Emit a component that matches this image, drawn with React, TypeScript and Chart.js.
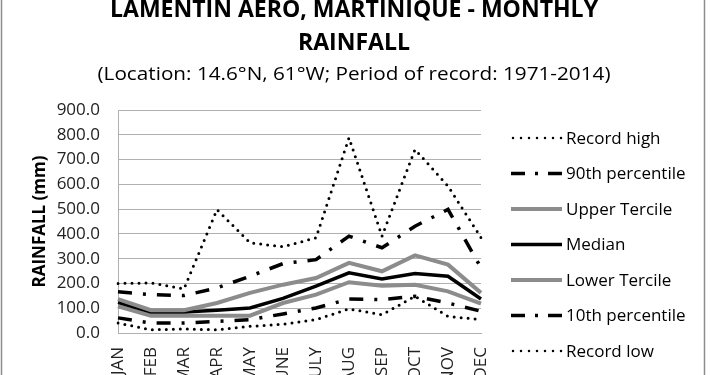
import React, { useEffect, useRef } from "react";
import { Chart, registerables } from "chart.js";

Chart.register(...registerables);

const months = ["JAN", "FEB", "MAR", "APR", "MAY", "JUNE", "JULY", "AUG", "SEP", "OCT", "NOV", "DEC"];
const recordHigh = [200, 202, 178, 498, 364, 348, 384, 788, 391, 741, 593, 385];
const p90 = [166, 155, 151, 182, 229, 280, 296, 391, 344, 431, 499, 263];
const upperTercile = [137, 92, 92, 121, 162, 195, 222, 283, 249, 313, 276, 162];
const median = [124, 85, 85, 92, 101, 140, 189, 243, 218, 240, 229, 137];
const lowerTercile = [108, 70, 70, 70, 70, 121, 155, 205, 191, 195, 168, 119];
const p10 = [61, 40, 40, 47, 54, 77, 101, 137, 135, 148, 121, 88];
const recordLow = [40, 13, 16, 13, 27, 35, 54, 97, 74, 148, 67, 54];

const titleLines = ["LAMENTIN AERO, MARTINIQUE - MONTHLY", "RAINFALL"];
const subtitle = "(Location: 14.6°N, 61°W; Period of record: 1971-2014)";
const yTitle = "RAINFALL (mm)";

const FONT = "'Open Sans', 'Noto Sans', sans-serif";

function fitText(ctx: CanvasRenderingContext2D, text: string, font: string, cx: number, y: number, targetW: number) {
  ctx.save();
  ctx.font = font;
  const w = ctx.measureText(text).width;
  const k = targetW / w;
  ctx.translate(cx, y);
  ctx.scale(k, 1);
  ctx.textAlign = "center";
  ctx.fillText(text, 0, 0);
  ctx.restore();
}

const decorPlugin = {
  id: "decor",
  afterDraw(chart: any) {
    const ctx = chart.ctx as CanvasRenderingContext2D;
    ctx.save();
    // outer frame
    ctx.strokeStyle = "#8c8c8c";
    ctx.lineWidth = 1.5;
    ctx.strokeRect(1.5, -10, 703, 400);

    // titles
    ctx.fillStyle = "#000";
    ctx.textBaseline = "alphabetic";
    fitText(ctx, titleLines[0], `bold 24px ${FONT}`, 354, 17, 488);
    ctx.font = `bold 24px ${FONT}`;
    const full = ctx.measureText(titleLines[0]).width;
    const k = 488 / full;
    fitText(ctx, titleLines[1], `bold 24px ${FONT}`, 354, 50, ctx.measureText(titleLines[1]).width * k);
    fitText(ctx, subtitle, `19px ${FONT}`, 354, 80, 513);

    // legend
    const ds = chart.data.datasets;
    ctx.textAlign = "left";
    ctx.textBaseline = "middle";
    ctx.font = `17px ${FONT}`;
    for (let i = 0; i < ds.length; i++) {
      const d = ds[i];
      const y = 138 + i * 35.5;
      ctx.save();
      ctx.strokeStyle = d.borderColor;
      ctx.lineWidth = d.legendWidth || d.borderWidth;
      ctx.lineCap = d.borderCapStyle || "butt";
      ctx.setLineDash(d.legendDash || d.borderDash || []);
      ctx.beginPath();
      ctx.moveTo(d.legendStart || 511, y);
      ctx.lineTo(562, y);
      ctx.stroke();
      ctx.restore();
      ctx.fillStyle = "#000";
      ctx.fillText(d.label, 566, y + 1);
    }
    ctx.restore();
  },
};

export default function App() {
  const ref = useRef<HTMLCanvasElement | null>(null);
  useEffect(() => {
    if (!ref.current) return;
    const dotted = { borderColor: "#000", borderWidth: 3, borderDash: [0, 7], borderCapStyle: "round", legendDash: [0, 8], legendWidth: 2.5, legendStart: 513 };
    const dashDot = { borderColor: "#000", borderWidth: 3.5, borderDash: [14, 11, 3, 11], borderCapStyle: "butt", legendDash: [14, 10, 3, 10] };
    const common = { pointRadius: 0, tension: 0, fill: false };
    const chart = new Chart(ref.current, {
      type: "line",
      data: {
        labels: months,
        datasets: [
          { label: "Record high", data: recordHigh, ...common, ...dotted },
          { label: "90th percentile", data: p90, ...common, ...dashDot },
          { label: "Upper Tercile", data: upperTercile, ...common, borderColor: "#8c8c8c", borderWidth: 4 },
          { label: "Median", data: median, ...common, borderColor: "#000", borderWidth: 3.5 },
          { label: "Lower Tercile", data: lowerTercile, ...common, borderColor: "#8c8c8c", borderWidth: 4 },
          { label: "10th percentile", data: p10, ...common, ...dashDot },
          { label: "Record low", data: recordLow, ...common, ...dotted },
        ] as any,
      },
      options: {
        animation: false,
        responsive: false,
        layout: { padding: { top: 110, right: 229, bottom: 0, left: 0 } },
        plugins: { legend: { display: false }, title: { display: false }, tooltip: { enabled: false } },
        scales: {
          x: {
            grid: { display: false, drawTicks: false },
            border: { display: true, color: "#b0b0b0", width: 1 },
            ticks: { maxRotation: 90, minRotation: 90, autoSkip: false, padding: 14, color: "#222", font: { family: FONT, size: 17 } },
            afterFit: (s: any) => { s.height = 42; },
          },
          y: {
            min: 0,
            max: 900,
            grid: { color: "#b0b0b0", lineWidth: 1, drawTicks: false },
            border: { display: true, color: "#b0b0b0", width: 1 },
            ticks: { stepSize: 100, padding: 18, color: "#222", font: { family: FONT, size: 17 }, callback: (v: any) => Number(v).toFixed(1) },
            title: { display: true, text: yTitle, color: "#000", font: { family: FONT, size: 17, weight: "bold" }, padding: { top: 30, bottom: 0 } },
            afterFit: (s: any) => { s.width = 118; },
          },
        },
      } as any,
      plugins: [decorPlugin],
    });
    return () => chart.destroy();
  }, []);
  return (
    <div style={{ position: "fixed", left: 0, top: 0, width: 710, height: 375, background: "#fff" }}>
      <canvas ref={ref} width={710} height={375} style={{ width: 710, height: 375, display: "block" }} />
    </div>
  );
}
